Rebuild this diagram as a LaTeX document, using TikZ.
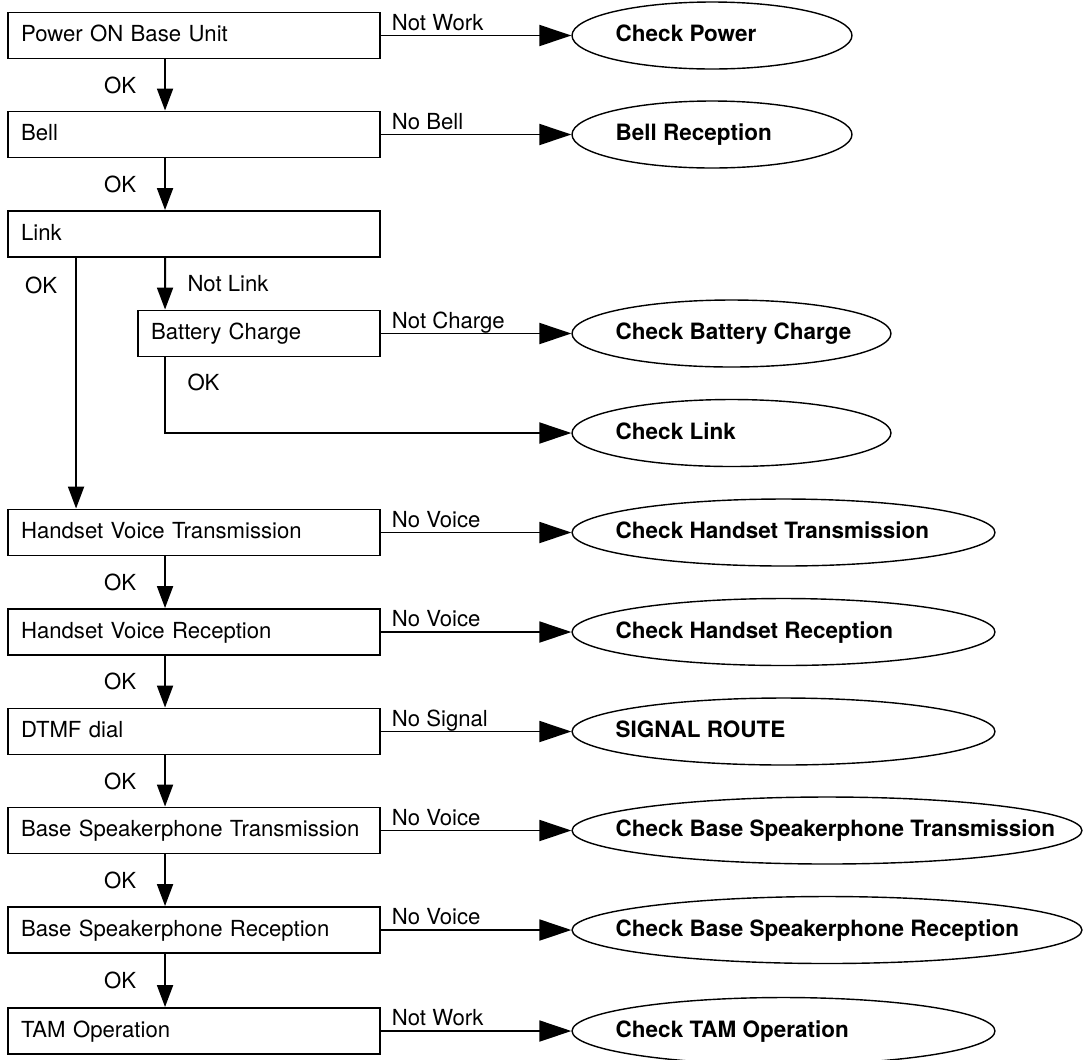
\documentclass[tikz,border=0pt]{standalone}
\usepackage{fontspec}
\setmainfont{TeX Gyre Heros}
\usetikzlibrary{shapes,arrows.meta,positioning}

\tikzset{
    test/.style={draw, rectangle, line width=1.1pt, minimum height=0.92cm,
        text width=6.92cm, inner xsep=0.26cm, inner ysep=0pt, align=left,
        text height=0.72em, text depth=0pt, font=\fontsize{12.6}{14}\selectfont},
    chk/.style={draw, ellipse, line width=0.8pt, minimum height=1.34cm, inner sep=0pt},
    chktxt/.style={anchor=west, inner sep=0pt, text height=0.72em, text depth=0pt,
        font=\bfseries\fontsize{12.8}{14}\selectfont},
    lbl/.style={inner sep=0pt, font=\fontsize{12.6}{14}\selectfont},
    go/.style={line width=1.1pt, -{Triangle[length=0.64cm, width=0.42cm]}},
    okgo/.style={line width=1.1pt, -{Triangle[length=0.44cm, width=0.32cm]}}
}

\begin{document}
\begin{tikzpicture}[x=0.02cm, y=-0.02cm]
    \useasboundingbox (0,0) rectangle (1084,1059);

    % test steps
    \node[test] (pwr) at (194,35.5) {Power ON Base Unit};
    \node[test] (bell) at (194,134.5) {Bell};
    \node[test] (link) at (194,234) {Link};
    \node[test, text width=4.32cm] (bat) at (259,333.5) {Battery Charge};
    \node[test] (hvt) at (194,532.5) {Handset Voice Transmission};
    \node[test] (hvr) at (194,632) {Handset Voice Reception};
    \node[test] (dtmf) at (194,731.5) {DTMF dial};
    \node[test] (bst) at (194,830.5) {Base Speakerphone Transmission};
    \node[test] (bsr) at (194,930) {Base Speakerphone Reception};
    \node[test] (tam) at (194,1031) {TAM Operation};

    % checks
    \node[chk, minimum width=5.6cm] (cpow) at (712,35.5) {};
    \node[chktxt] at ([xshift=0.88cm]cpow.west) {Check Power};
    \node[chk, minimum width=5.6cm] (cbell) at (712,134.5) {};
    \node[chktxt] at ([xshift=0.88cm]cbell.west) {Bell Reception};
    \node[chk, minimum width=6.38cm] (cbat) at (731.5,333.5) {};
    \node[chktxt] at ([xshift=0.88cm]cbat.west) {Check Battery Charge};
    \node[chk, minimum width=6.38cm] (clink) at (731.5,433) {};
    \node[chktxt] at ([xshift=0.88cm]clink.west) {Check Link};
    \node[chk, minimum width=8.46cm] (chtx) at (783.5,532.5) {};
    \node[chktxt] at ([xshift=0.88cm]chtx.west) {Check Handset Transmission};
    \node[chk, minimum width=8.46cm] (chrx) at (783.5,632) {};
    \node[chktxt] at ([xshift=0.88cm]chrx.west) {Check Handset Reception};
    \node[chk, minimum width=8.46cm] (csig) at (783.5,731.5) {};
    \node[chktxt] at ([xshift=0.88cm]csig.west) {SIGNAL ROUTE};
    \node[chk, minimum width=10.2cm] (cbtx) at (827,830.5) {};
    \node[chktxt] at ([xshift=0.88cm]cbtx.west) {Check Base Speakerphone Transmission};
    \node[chk, minimum width=10.2cm] (cbrx) at (827,930) {};
    \node[chktxt] at ([xshift=0.88cm]cbrx.west) {Check Base Speakerphone Reception};
    \node[chk, minimum width=8.46cm] (ctam) at (783.5,1031) {};
    \node[chktxt] at ([xshift=0.88cm]ctam.west) {Check TAM Operation};

    % failures
    \draw[go] (pwr.east) -- node[lbl, at start, anchor=base west, xshift=0.2cm, yshift=0.11cm] {Not Work} (cpow.west);
    \draw[go] (bell.east) -- node[lbl, at start, anchor=base west, xshift=0.2cm, yshift=0.11cm] {No Bell} (cbell.west);
    \draw[go] (bat.east) -- node[lbl, at start, anchor=base west, xshift=0.2cm, yshift=0.11cm] {Not Charge} (cbat.west);
    \draw[go] (hvt.east) -- node[lbl, at start, anchor=base west, xshift=0.2cm, yshift=0.11cm] {No Voice} (chtx.west);
    \draw[go] (hvr.east) -- node[lbl, at start, anchor=base west, xshift=0.2cm, yshift=0.11cm] {No Voice} (chrx.west);
    \draw[go] (dtmf.east) -- node[lbl, at start, anchor=base west, xshift=0.2cm, yshift=0.11cm] {No Signal} (csig.west);
    \draw[go] (bst.east) -- node[lbl, at start, anchor=base west, xshift=0.2cm, yshift=0.11cm] {No Voice} (cbtx.west);
    \draw[go] (bsr.east) -- node[lbl, at start, anchor=base west, xshift=0.2cm, yshift=0.11cm] {No Voice} (cbrx.west);
    \draw[go] (tam.east) -- node[lbl, at start, anchor=base west, xshift=0.2cm, yshift=0.11cm] {Not Work} (ctam.west);

    % OK path
    \draw[okgo] ([xshift=3.16cm]pwr.south west) -- node[lbl, left=0.56cm] {OK} ([xshift=3.16cm]bell.north west);
    \draw[okgo] ([xshift=3.16cm]bell.south west) -- node[lbl, left=0.56cm] {OK} ([xshift=3.16cm]link.north west);
    \draw[okgo] ([xshift=1.38cm]link.south west) -- node[lbl, pos=0.11, left=0.36cm] {OK} ([xshift=1.38cm]hvt.north west);
    \draw[okgo] ([xshift=3.16cm]link.south west) -- node[lbl, right=0.43cm] {Not Link} ([xshift=0.56cm]bat.north west);
    \draw[go] ([xshift=0.56cm]bat.south west) |- node[lbl, pos=0.165, right=0.43cm] {OK} (clink.west);
    \draw[okgo] ([xshift=3.16cm]hvt.south west) -- node[lbl, left=0.56cm] {OK} ([xshift=3.16cm]hvr.north west);
    \draw[okgo] ([xshift=3.16cm]hvr.south west) -- node[lbl, left=0.56cm] {OK} ([xshift=3.16cm]dtmf.north west);
    \draw[okgo] ([xshift=3.16cm]dtmf.south west) -- node[lbl, left=0.56cm] {OK} ([xshift=3.16cm]bst.north west);
    \draw[okgo] ([xshift=3.16cm]bst.south west) -- node[lbl, left=0.56cm] {OK} ([xshift=3.16cm]bsr.north west);
    \draw[okgo] ([xshift=3.16cm]bsr.south west) -- node[lbl, left=0.56cm] {OK} ([xshift=3.16cm]tam.north west);
\end{tikzpicture}
\end{document}
